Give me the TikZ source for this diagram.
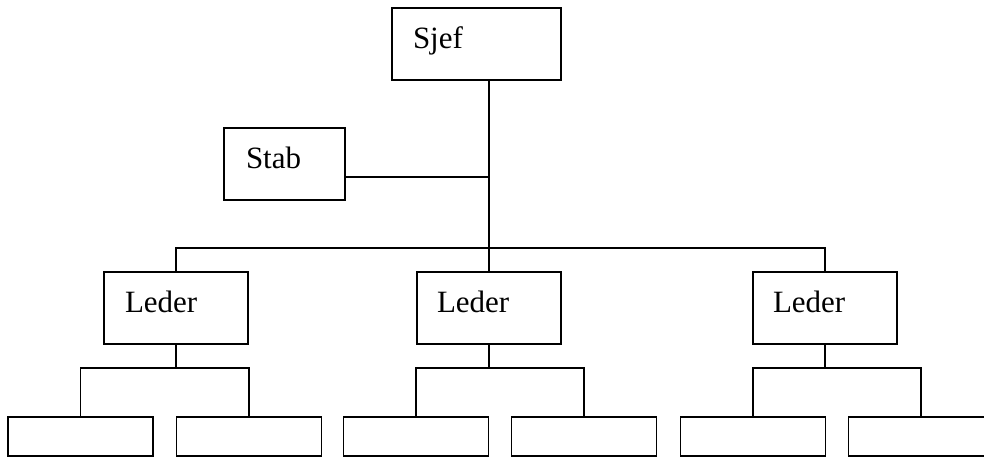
\documentclass[tikz,border=0pt]{standalone}
\usepackage{fontspec}
\setmainfont{Liberation Serif}
\begin{document}
\begin{tikzpicture}[x=1pt,y=-1pt,
  line width=1.4pt,
  orgbox/.style={draw, rectangle, inner sep=0pt, minimum height=72pt},
  unitbox/.style={draw, rectangle, inner sep=0pt, minimum width=145pt, minimum height=39pt},
  boxtext/.style={anchor=base west, inner sep=0pt, font=\fontsize{31}{37}\selectfont}]
\useasboundingbox (0,0) rectangle (984,457);
\clip (0,0) rectangle (984,457);

% top level and staff
\node[orgbox, minimum width=169pt] (sjef) at (476.5,44) {};
\node[orgbox, minimum width=121pt] (stab) at (284.5,164) {};

% middle level
\node[orgbox, minimum width=144pt] (ledA) at (176,308) {};
\node[orgbox, minimum width=144pt] (ledB) at (489,308) {};
\node[orgbox, minimum width=144pt] (ledC) at (825,308) {};

% bottom level
\node[unitbox] (a1) at (80.5,436.5) {};
\node[unitbox] (a2) at (249,436.5) {};
\node[unitbox] (b1) at (416,436.5) {};
\node[unitbox] (b2) at (584,436.5) {};
\node[unitbox] (c1) at (753,436.5) {};
\node[unitbox] (c2) at (921,436.5) {};

% labels
\node[boxtext] (tsjef) at ([shift={(21,41)}]sjef.north west) {Sjef};
\node[boxtext] (tstab) at ([shift={(22,41)}]stab.north west) {Stab};
\node[boxtext] (tledA) at ([shift={(21,41)}]ledA.north west) {Leder};
\node[boxtext] (tledB) at ([shift={(20,41)}]ledB.north west) {Leder};
\node[boxtext] (tledC) at ([shift={(20,41)}]ledC.north west) {Leder};

% junction points
\coordinate (stabjoin) at (489,177);
\coordinate (bus) at (489,248);
\coordinate (subbus) at (0,368);

% connectors
\draw (ledB.north) -- (ledB.north |- sjef.south);
\draw (stab.east |- stabjoin) -- (stabjoin);
\draw (ledA.north) -- (ledA.north |- bus) -- (ledC.north |- bus) -- (ledC.north);

\draw (ledA.south) -- (ledA.south |- subbus);
\draw (a1.north) -- (a1.north |- subbus) -- (a2.north |- subbus) -- (a2.north);
\draw (ledB.south) -- (ledB.south |- subbus);
\draw (b1.north) -- (b1.north |- subbus) -- (b2.north |- subbus) -- (b2.north);
\draw (ledC.south) -- (ledC.south |- subbus);
\draw (c1.north) -- (c1.north |- subbus) -- (c2.north |- subbus) -- (c2.north);
\end{tikzpicture}
\end{document}
